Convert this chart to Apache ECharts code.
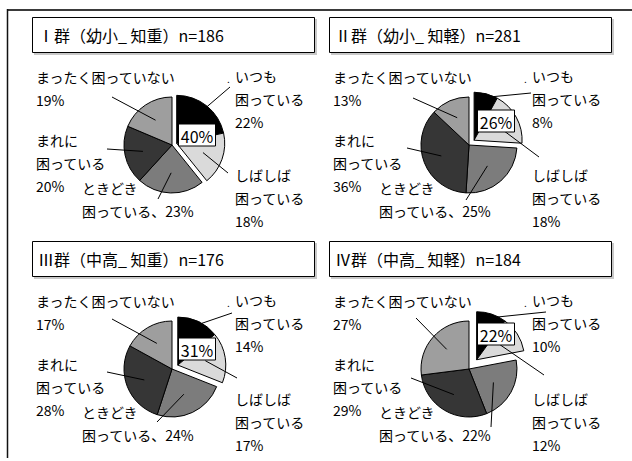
<!DOCTYPE html>
<html>
<head>
<meta charset="utf-8">
<script src="https://cdn.jsdelivr.net/npm/echarts@6/dist/echarts.min.js"></script>
<style>
html, body { margin: 0; padding: 0; background: #ffffff; }
#chart { width: 632px; height: 461px; }
</style>
</head>
<body>
<div id="chart"></div>
<script>
// Answer categories, in drawing order (clockwise from 12 o'clock)
const categories = ['いつも困っている', 'しばしば困っている', 'ときどき困っている', 'まれに困っている', 'まったく困っていない'];
// Group headings
const groupTitles = ['Ⅰ群（幼小_ 知重）n=186', 'Ⅱ群（幼小_ 知軽）n=281', 'Ⅲ群（中高_ 知重）n=176', 'Ⅳ群（中高_ 知軽）n=184'];
// Percentages per group
const group1 = [22, 18, 23, 20, 19];
const group2 = [8, 18, 25, 36, 13];
const group3 = [14, 17, 24, 28, 17];
const group4 = [10, 12, 22, 29, 27];
const groups = [group1, group2, group3, group4];

// ---- styling & layout ----
const FONT = '"Noto Sans CJK JP", "Noto Sans", sans-serif';
const sliceColors = ['#000000', '#dadada', '#7c7c7c', '#363636', '#9e9e9e'];
const panelOrigins = [[0, 0], [297, 0], [0, 224], [297, 224]];
const pieCenter = [172, 145];
const pieRadius = 48;
const explodeDist = [5, 7, 7, 12];      // how far the "often" pair is pulled out
const highlightCount = 2;               // first two answers form the pulled-out pair
// label blocks: [left x, centre y of first line]
const labelPos = [[235, 76], [235, 175], [82, 188], [36, 140], [36, 77]];
// leader line label-side ends, per panel
const leaderEnds = [
  [[230, 87], [228, 173], [158, 199], [107, 149], [112, 97]],
  [[234, 93], [242, 157], [169, 200], [110, 148], [116, 98]],
  [[232, 89], [237, 154], [157, 198], [107, 148], [112, 95]],
  [[249, 88], [247, 151], [194, 203], [114, 154], [119, 94]]
];
// where each leader starts, as a fraction of the radius along the slice bisector
const leaderDepth = [0.92, 0.58, 0.58, 0.62, 0.62];
// centre of the combined-percentage box, per panel
const sumBoxPos = [[197, 135], [199, 121], [197, 125], [199, 110]];
const LINE_H = 23;

function labelLines(name, v) {
  const cut = name.indexOf('困');
  if (name.endsWith('ない')) return [name, v + '%'];
  const head = name.slice(0, cut), tail = name.slice(cut);
  if (head === 'ときどき') return [head, tail + '、' + v + '%'];
  return [head, tail, v + '%'];
}

const series = [];
const graphic = [];

// outer frame: top rule and left rule
graphic.push({ type: 'line', shape: { x1: 7, y1: 10, x2: 632, y2: 10 }, style: { stroke: '#3a3a3a', lineWidth: 2 }, silent: true });
graphic.push({ type: 'line', shape: { x1: 7.5, y1: 9, x2: 7.5, y2: 458 }, style: { stroke: '#111', lineWidth: 1.5 }, silent: true });

groups.forEach(function (vals, g) {
  const ox = panelOrigins[g][0], oy = panelOrigins[g][1];
  const cx = ox + pieCenter[0], cy = oy + pieCenter[1];
  const total = vals.reduce(function (a, b) { return a + b; }, 0);
  const hiSum = vals.slice(0, highlightCount).reduce(function (a, b) { return a + b; }, 0);
  const hiMid = (hiSum / 2) / total * 2 * Math.PI;
  const ex = cx + explodeDist[g] * Math.sin(hiMid);
  const ey = cy - explodeDist[g] * Math.cos(hiMid);

  // title box with soft shadow
  graphic.push({ type: 'rect', shape: { x: ox + 34, y: oy + 19, width: 283, height: 36 }, style: { fill: '#c8c8c8' }, silent: true });
  graphic.push({ type: 'rect', shape: { x: ox + 32.5, y: oy + 17.5, width: 282, height: 35 }, style: { fill: '#fff', stroke: '#000', lineWidth: 1 }, silent: true });
  graphic.push({ type: 'text', x: ox + 38, y: oy + 35, style: { text: groupTitles[g], font: '16px ' + FONT, fill: '#000', align: 'left', verticalAlign: 'middle' }, silent: true });

  function pieData(pulled) {
    return vals.map(function (v, i) {
      const inPair = i < highlightCount;
      const visible = pulled ? inPair : !inPair;
      return {
        name: categories[i], value: v,
        itemStyle: visible
          ? { color: sliceColors[i], borderColor: '#000', borderWidth: 1 }
          : { color: 'rgba(0,0,0,0)', borderWidth: 0 }
      };
    });
  }
  const common = {
    type: 'pie', radius: pieRadius, startAngle: 90, clockwise: true,
    label: { show: false }, labelLine: { show: false },
    emphasis: { disabled: true }, silent: true, animation: false, z: 2
  };
  series.push(Object.assign({}, common, { center: [cx, cy], data: pieData(false) }));
  series.push(Object.assign({}, common, { center: [ex, ey], data: pieData(true) }));

  // labels and leader lines
  let cum = 0;
  vals.forEach(function (v, i) {
    const mid = (cum + v / 2) / total * 2 * Math.PI;
    cum += v;
    const bx = i < highlightCount ? ex : cx;
    const by = i < highlightCount ? ey : cy;
    const r = leaderDepth[i] * pieRadius;
    const sx = bx + r * Math.sin(mid), sy = by - r * Math.cos(mid);
    const end = leaderEnds[g][i];
    graphic.push({ type: 'line', shape: { x1: sx, y1: sy, x2: ox + end[0], y2: oy + end[1] }, style: { stroke: '#000', lineWidth: 1 }, silent: true, z: 10 });

    const lines = labelLines(categories[i], v);
    graphic.push({
      type: 'text', x: ox + labelPos[i][0], y: oy + labelPos[i][1] - LINE_H / 2,
      style: { text: lines.join('\n'), font: '14px ' + FONT, lineHeight: LINE_H, fill: '#000', align: 'left', verticalAlign: 'top' },
      silent: true
    });
    if (i === 0) {
      graphic.push({ type: 'text', x: ox + labelPos[i][0] - 8, y: oy + labelPos[i][1] + 2, style: { text: '.', font: '10px ' + FONT, fill: '#000', align: 'left', verticalAlign: 'middle' }, silent: true });
    }
  });

  // combined share of the pulled-out pair
  const bp = sumBoxPos[g];
  graphic.push({ type: 'rect', shape: { x: ox + bp[0] - 18.5, y: oy + bp[1] - 11, width: 37, height: 22 }, style: { fill: '#fff', stroke: '#000', lineWidth: 1 }, silent: true, z: 30 });
  graphic.push({ type: 'text', x: ox + bp[0], y: oy + bp[1] + 1, style: { text: hiSum + '%', font: '16px ' + FONT, fill: '#000', align: 'center', verticalAlign: 'middle' }, silent: true, z: 31 });
});

const chart = echarts.init(document.getElementById('chart'), null, { renderer: 'svg' });
chart.setOption({ backgroundColor: '#ffffff', animation: false, series: series, graphic: { elements: graphic } });
</script>
</body>
</html>
